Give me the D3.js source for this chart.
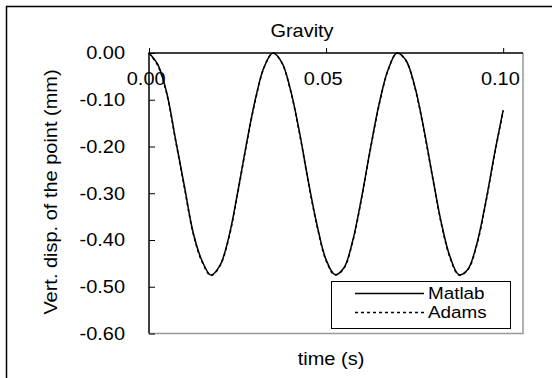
<!DOCTYPE html>
<html>
<head>
<meta charset="utf-8">
<script src="https://cdn.jsdelivr.net/npm/d3@7"></script>
<style>
  body { margin: 0; background: #fff; }
  svg text { font-family: Arial, "Liberation Sans", sans-serif; fill: #000; }
</style>
</head>
<body>
<div class="chart"></div>
<script>
// time (s)
const time = [0, 0.0025, 0.005, 0.0075, 0.01, 0.0125, 0.015, 0.0175, 0.02, 0.0225,
  0.025, 0.0275, 0.03, 0.0325, 0.035, 0.0375, 0.04, 0.0425, 0.045, 0.0475,
  0.05, 0.0525, 0.055, 0.0575, 0.06, 0.0625, 0.065, 0.0675, 0.07, 0.0725,
  0.075, 0.0775, 0.08, 0.0825, 0.085, 0.0875, 0.09, 0.0925, 0.095, 0.0975, 0.1];
// vertical displacement (mm)
const matlab = [0, -0.025, -0.085, -0.185, -0.285, -0.385, -0.445, -0.475, -0.455, -0.395,
  -0.300, -0.195, -0.100, -0.030, 0, -0.020, -0.080, -0.170, -0.275, -0.370,
  -0.442, -0.474, -0.460, -0.402, -0.310, -0.205, -0.108, -0.036, 0, -0.015,
  -0.070, -0.158, -0.262, -0.362, -0.436, -0.474, -0.463, -0.410, -0.322, -0.218, -0.122];
const adams = [0, -0.027, -0.087, -0.187, -0.288, -0.387, -0.447, -0.476, -0.456, -0.397,
  -0.302, -0.197, -0.102, -0.031, 0, -0.021, -0.082, -0.172, -0.277, -0.372,
  -0.444, -0.475, -0.461, -0.404, -0.312, -0.207, -0.110, -0.037, 0, -0.016,
  -0.072, -0.160, -0.264, -0.364, -0.438, -0.475, -0.464, -0.412, -0.324, -0.220, -0.124];
const xTicks = [0, 0.05, 0.1];
const yTicks = [0, -0.1, -0.2, -0.3, -0.4, -0.5, -0.6];
const series = ["Matlab", "Adams"];

const width = 552, height = 378;
const plot = { left: 149, right: 523, top: 53, bottom: 333.5 };

// text is a bit wider than plain Arial in the picture
const fs = 18, sx = 1.11;
const fmt = function (d) { return d3.format(".2f")(d).replace("\u2212", "-"); };

const svg = d3.select(".chart")
    .append("svg")
    .attr("width", width)
    .attr("height", height);

// outer frame
svg.append("rect")
    .attr("x", 6.5).attr("y", 6.5)
    .attr("width", 600).attr("height", 400)
    .attr("fill", "none")
    .attr("stroke", "#000")
    .attr("stroke-width", 1.5);

const x = d3.scaleLinear()
    .domain([0, 0.1056])
    .range([plot.left, plot.right]);

const y = d3.scaleLinear()
    .domain([-0.6, 0])
    .range([plot.bottom, plot.top]);

// right and bottom border (grey)
svg.append("path")
    .attr("d", "M" + plot.left + "," + plot.bottom + "H" + plot.right + "V" + plot.top)
    .attr("fill", "none")
    .attr("stroke", "#999")
    .attr("stroke-width", 1.5);

// x axis at top, labels inside the plot
const xAxis = svg.append("g")
    .attr("transform", "translate(0," + plot.top + ")")
    .call(d3.axisTop(x).tickValues(xTicks).tickSize(5).tickFormat(fmt));
xAxis.select(".domain").remove();
xAxis.selectAll(".tick line").attr("stroke", "#000");
xAxis.selectAll("text")
    .attr("y", 32).attr("dy", 0).attr("dx", -3)
    .attr("transform", "scale(" + sx + ",1)")
    .style("font-size", fs + "px")
    .style("font-family", "Arial, 'Liberation Sans', sans-serif");

const yAxis = svg.append("g")
    .attr("transform", "translate(" + plot.left + ",0)")
    .call(d3.axisLeft(y).tickValues(yTicks).tickSizeInner(-6).tickSizeOuter(0).tickPadding(24).tickFormat(fmt));
yAxis.select(".domain").remove();
yAxis.selectAll(".tick line").attr("stroke", "#000");
yAxis.selectAll("text")
    .attr("x", -24 / sx)
    .attr("transform", "scale(" + sx + ",1)")
    .style("font-size", fs + "px")
    .style("font-family", "Arial, 'Liberation Sans', sans-serif");

// black left and top axis lines
svg.append("path")
    .attr("d", "M" + plot.left + "," + plot.bottom + "V" + plot.top + "H" + plot.right)
    .attr("fill", "none")
    .attr("stroke", "#000")
    .attr("stroke-width", 1.5);

const line = d3.line()
    .x(function (d, i) { return x(time[i]); })
    .y(function (d) { return y(d); })
    .curve(d3.curveCatmullRom);

svg.append("path")
    .datum(adams)
    .attr("d", line)
    .attr("fill", "none")
    .attr("stroke", "#000")
    .attr("stroke-width", 1.5)
    .attr("stroke-dasharray", "3,3");

svg.append("path")
    .datum(matlab)
    .attr("d", line)
    .attr("fill", "none")
    .attr("stroke", "#000")
    .attr("stroke-width", 1.5);

function label(px, py, rot, anchor, txt, size) {
    svg.append("g")
        .attr("transform", "translate(" + px + "," + py + ") rotate(" + rot + ") scale(" + sx + ",1)")
      .append("text")
        .attr("text-anchor", anchor)
        .style("font-size", (size || fs) + "px")
        .text(txt);
}

// titles
label(302, 37, 0, "middle", "Gravity");
label(331, 365, 0, "middle", "time (s)");
label(57, 192, -90, "middle", "Vert. disp. of the point (mm)");

// legend
const legend = svg.append("g");
legend.append("rect")
    .attr("x", 331.5).attr("y", 281.5)
    .attr("width", 179).attr("height", 47)
    .attr("fill", "#fff")
    .attr("stroke", "#000")
    .attr("stroke-width", 1);

series.forEach(function (name, i) {
    legend.append("line")
        .attr("x1", 355).attr("x2", 424)
        .attr("y1", 293.5 + i * 19).attr("y2", 293.5 + i * 19)
        .attr("stroke", "#000")
        .attr("stroke-width", 1.5)
        .attr("stroke-dasharray", i === 1 ? "3,3" : null);
    label(428, 298.5 + i * 19, 0, "start", name, 17);
});
</script>
</body>
</html>
